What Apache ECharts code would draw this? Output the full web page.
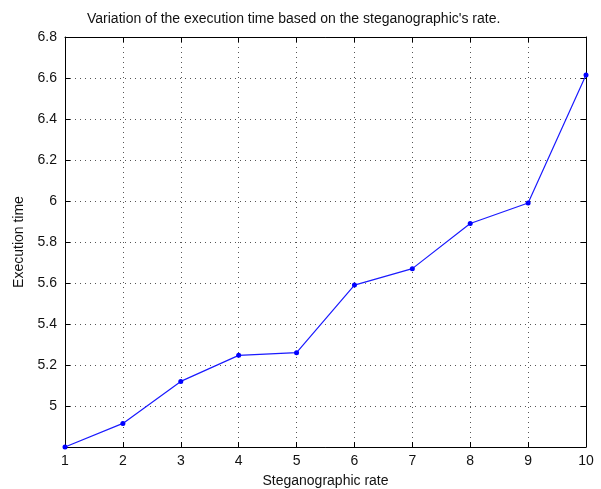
<!DOCTYPE html>
<html>
<head>
<meta charset="utf-8">
<script src="https://cdn.jsdelivr.net/npm/echarts@6/dist/echarts.min.js"></script>
<style>
  html, body { margin: 0; padding: 0; background: #fff; }
  #chart { width: 601px; height: 489px; }
</style>
</head>
<body>
<div id="chart"></div>
<script>
// steganographic rate vs execution time
const rates = [1, 2, 3, 4, 5, 6, 7, 8, 9, 10]
const execTime = [4.80, 4.915, 5.12, 5.247, 5.26, 5.59, 5.67, 5.89, 5.99, 6.615]
const xTicks = [1, 10, 1]          // min, max, step
const yTicks = [4.8, 6.8, 0.2]     // min, max, step

const chart = echarts.init(document.getElementById('chart'))

const font = 'Liberation Sans, Arial, sans-serif'
const gridDots = { show: true, lineStyle: { color: '#555', type: [1, 4], width: 1 } }

chart.setOption({
  animation: false,
  title: {
    text: "Variation of the execution time based on the steganographic's rate.",
    left: 82,
    top: 7,
    textStyle: { fontFamily: font, fontSize: 14, fontWeight: 'normal', color: '#111' },
  },
  grid: { left: 65, right: 15, top: 37, bottom: 42, outerBoundsMode: 'none', containLabel: false },
  xAxis: [{
    type: 'value',
    min: xTicks[0], max: xTicks[1], interval: xTicks[2],
    name: 'Steganographic rate',
    nameLocation: 'middle',
    nameGap: 27,
    nameTextStyle: { fontFamily: font, fontSize: 14, color: '#111' },
    axisLine: { lineStyle: { color: '#000', width: 1 } },
    axisTick: { inside: true, length: 5, lineStyle: { color: '#000' } },
    axisLabel: { fontFamily: font, fontSize: 14, color: '#111', margin: 7 },
    splitLine: gridDots,
  }, {
    type: 'value', position: 'top',
    min: xTicks[0], max: xTicks[1], interval: xTicks[2],
    axisLine: { show: true, lineStyle: { color: '#000', width: 1 } },
    axisTick: { inside: true, length: 5, lineStyle: { color: '#000' } },
    axisLabel: { show: false },
    splitLine: { show: false },
  }],
  yAxis: [{
    type: 'value',
    min: yTicks[0], max: yTicks[1], interval: yTicks[2],
    name: 'Execution time',
    nameLocation: 'middle',
    nameGap: 38,
    nameTextStyle: { fontFamily: font, fontSize: 14, color: '#111' },
    axisLine: { show: true, lineStyle: { color: '#000', width: 1 } },
    axisTick: { inside: true, length: 5, lineStyle: { color: '#000' } },
    axisLabel: {
      fontFamily: font, fontSize: 14, color: '#111', margin: 8,
      showMinLabel: false,
      formatter: v => String(Math.round(v * 10) / 10),
    },
    splitLine: gridDots,
  }, {
    type: 'value', position: 'right',
    min: yTicks[0], max: yTicks[1], interval: yTicks[2],
    axisLine: { show: true, lineStyle: { color: '#000', width: 1 } },
    axisTick: { inside: true, length: 5, lineStyle: { color: '#000' } },
    axisLabel: { show: false },
    splitLine: { show: false },
  }],
  series: [{
    type: 'line',
    data: rates.map((r, i) => [r, execTime[i]]),
    symbol: 'circle',
    symbolSize: 5,
    lineStyle: { color: '#1a1aff', width: 1.2 },
    itemStyle: { color: '#0000ff' },
  }],
})
</script>
</body>
</html>
